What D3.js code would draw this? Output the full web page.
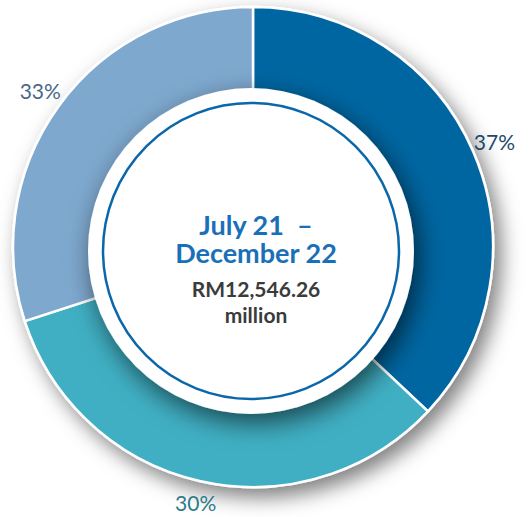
<!DOCTYPE html>
<html>
<head>
<meta charset="utf-8">
<script src="https://cdn.jsdelivr.net/npm/d3@7"></script>
<style>
  body { margin: 0; background: #fff; }
  svg { display: block; }
</style>
</head>
<body>
<svg></svg>
<script>
// slice sizes as drawn, clockwise from 12 o'clock
let shares = [37, 33, 30];
let sliceColors = ["#0566a1", "#41afc3", "#7ea8ce"];
// percent text as printed next to each slice
let pctLabels = ["37%", "30%", "33%"];
let labelColors = ["#22496b", "#2b7b8a", "#4a6785"];
let titleLines = ["July 21  \u2013", "December 22"];
let subLines = ["RM12,546.26", "million"];

let width = 530;
let height = 517;
let cx = 253;
let cy = 247;
let outerR = 240;

let svg = d3.select("svg").attr("width", width).attr("height", height);

let defs = svg.append("defs");

let ringShadow = defs.append("filter").attr("id", "ringShadow")
  .attr("x", "-20%").attr("y", "-20%").attr("width", "140%").attr("height", "140%");
ringShadow.append("feDropShadow")
  .attr("dx", 7).attr("dy", 9).attr("stdDeviation", 10)
  .attr("flood-color", "#000").attr("flood-opacity", 0.5);

let discShadow = defs.append("filter").attr("id", "discShadow")
  .attr("x", "-30%").attr("y", "-30%").attr("width", "160%").attr("height", "160%");
discShadow.append("feDropShadow")
  .attr("dx", 5).attr("dy", 9).attr("stdDeviation", 13)
  .attr("flood-color", "#000").attr("flood-opacity", 0.6);

let pie = d3.pie().sort(null).value((d) => d);
let arcs = pie(shares);

let arc = d3.arc().innerRadius(0).outerRadius(outerR);
let labelArc = d3.arc().innerRadius(263).outerRadius(263);

let ring = svg.append("g")
  .attr("transform", "translate(" + cx + "," + cy + ")")
  .attr("filter", "url(#ringShadow)");

ring.selectAll("path")
  .data(arcs)
  .enter()
  .append("path")
  .attr("d", arc)
  .attr("fill", (d, i) => sliceColors[i])
  .attr("stroke", "#fff")
  .attr("stroke-width", 2.5);

// labels
svg.append("g")
  .attr("transform", "translate(" + cx + "," + cy + ")")
  .selectAll("text")
  .data(arcs)
  .enter()
  .append("text")
  .attr("x", (d) => labelArc.centroid(d)[0])
  .attr("y", (d) => labelArc.centroid(d)[1] + 7)
  .attr("text-anchor", "middle")
  .attr("font-family", "Lato, sans-serif")
  .attr("font-weight", 400)
  .attr("font-size", 21)
  .attr("fill", (d, i) => labelColors[i])
  .text((d, i) => pctLabels[i]);

// white centre disc with its own shadow on the ring
let centre = svg.append("g").attr("transform", "translate(251, 251)");

centre.append("circle")
  .attr("r", 163)
  .attr("fill", "#fff")
  .attr("filter", "url(#discShadow)");

centre.append("circle")
  .attr("r", 148)
  .attr("fill", "none")
  .attr("stroke", "#0a67aa")
  .attr("stroke-width", 2.5);

let txt = svg.append("g").attr("transform", "translate(256, 0)")
  .attr("font-family", "Lato, sans-serif")
  .attr("font-weight", 700)
  .attr("text-anchor", "middle");

txt.selectAll(".title")
  .data(titleLines)
  .enter()
  .append("text")
  .attr("class", "title")
  .attr("y", (d, i) => 235 + i * 28)
  .attr("font-size", 27)
  .attr("fill", "#1a70b8")
  .attr("xml:space", "preserve")
  .style("white-space", "pre")
  .text((d) => d);

txt.selectAll(".sub")
  .data(subLines)
  .enter()
  .append("text")
  .attr("class", "sub")
  .attr("y", (d, i) => 297 + i * 26)
  .attr("font-size", 21)
  .attr("fill", "#3b3b3b")
  .text((d) => d);
</script>
</body>
</html>
